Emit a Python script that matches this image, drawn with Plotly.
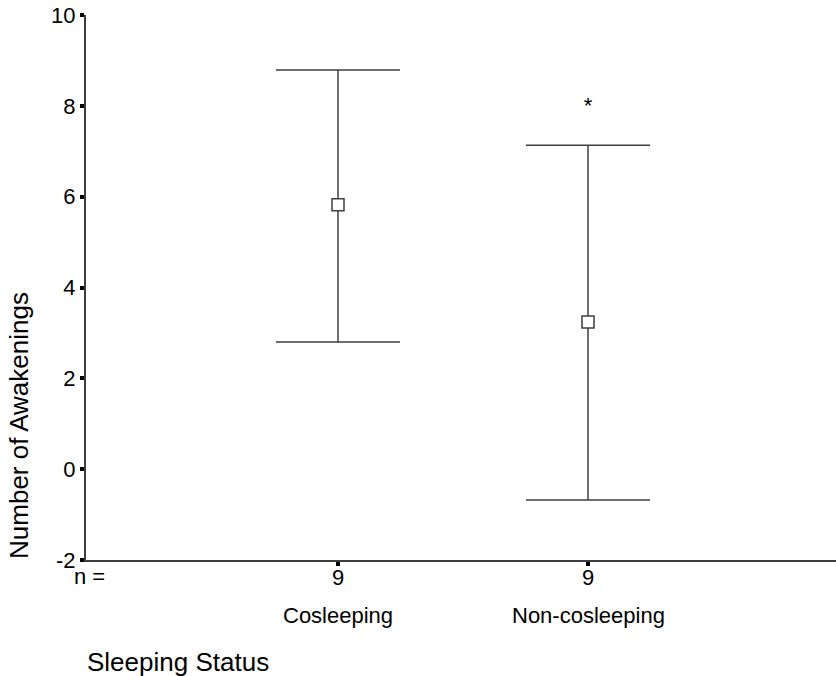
import plotly.graph_objects as go

# Data
categories = ["Cosleeping", "Non-cosleeping"]
n_counts = ["9", "9"]
means = [5.82, 3.24]
upper = [8.79, 7.13]
lower = [2.80, -0.68]
star_y = [7.97]
star_cat = [2]
y_ticks = [-2, 0, 2, 4, 6, 8, 10]
y_tick_labels = ["-2", "0", "2", "4", "6", "8", "10"]

x_pos = [i + 1 for i in range(len(categories))]
err_plus = [u - m for u, m in zip(upper, means)]
err_minus = [m - l for m, l in zip(means, lower)]

FONT = "Liberation Sans, Arial, Helvetica, sans-serif"
LINE = "#3f3f3f"

fig = go.Figure()

# error bars (drawn first, beneath markers)
fig.add_trace(go.Scatter(
    x=x_pos, y=means, mode="markers",
    marker=dict(size=1, color="rgba(0,0,0,0)"),
    error_y=dict(type="data", symmetric=False, array=err_plus, arrayminus=err_minus,
                 color=LINE, thickness=1.5, width=62),
    hoverinfo="skip", showlegend=False,
))

# mean markers
fig.add_trace(go.Scatter(
    x=x_pos, y=means, mode="markers",
    marker=dict(symbol="square", size=12, color="white", line=dict(color=LINE, width=1.5)),
    showlegend=False,
))

# asterisk
fig.add_trace(go.Scatter(
    x=star_cat, y=star_y, mode="text", text=["*"],
    textfont=dict(family=FONT, size=22, color="black"),
    textposition="middle center", showlegend=False,
))

fig.update_layout(
    width=836, height=676,
    margin=dict(l=86, r=0, t=15, b=116),
    paper_bgcolor="white", plot_bgcolor="white",
    font=dict(family=FONT, size=22, color="black"),
    xaxis=dict(
        range=[-0.008, 2.992], tickvals=x_pos, ticktext=n_counts,
        showline=True, linecolor=LINE, linewidth=2,
        ticks="outside", ticklen=4, tickwidth=4, tickcolor="black",
        showgrid=False, zeroline=False,
        tickfont=dict(size=22), ticklabelstandoff=-7,
    ),
    yaxis=dict(
        range=[-2, 10], tickvals=y_ticks, ticktext=y_tick_labels,
        showline=True, linecolor=LINE, linewidth=2,
        ticks="outside", ticklen=4, tickwidth=4, tickcolor="black",
        showgrid=False, zeroline=False,
        tickfont=dict(size=22), ticklabeloverflow="allow",
    ),
)

annotations = [
    dict(text="n =", xref="paper", yref="paper", x=-0.019, y=-0.031,
         xanchor="left", yanchor="middle", showarrow=False, font=dict(size=22)),
    dict(text="Sleeping Status", xref="paper", yref="paper", x=-0.001, y=-0.187,
         xanchor="left", yanchor="middle", showarrow=False, font=dict(size=26)),
    dict(text="Number of Awakenings", xref="paper", yref="paper", x=-0.0893, y=0.246,
         xanchor="center", yanchor="middle", textangle=-90, showarrow=False,
         font=dict(size=26)),
]
for xp, cat in zip(x_pos, categories):
    annotations.append(dict(text=cat, xref="x", yref="paper", x=xp, y=-0.101,
                            xanchor="center", yanchor="middle", showarrow=False,
                            font=dict(size=22)))
fig.update_layout(annotations=annotations)

fig.write_html(
    "out.html",
    config={"displayModeBar": False},
    post_script="document.body.style.margin='0';document.body.style.overflow='hidden';",
)
